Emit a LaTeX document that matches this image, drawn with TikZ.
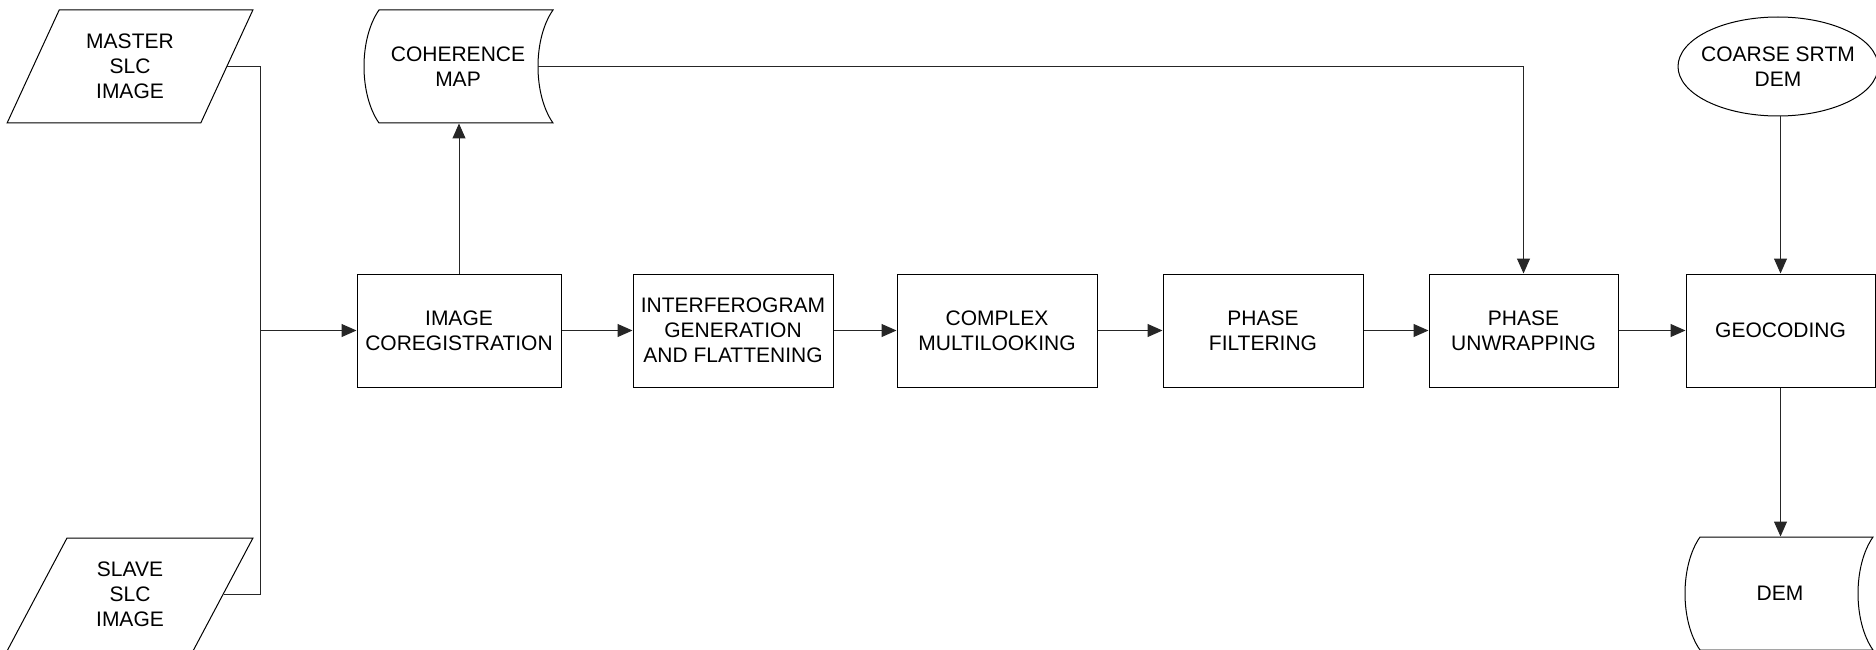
\documentclass[tikz,border=0pt]{standalone}
\usepackage{fontspec}
\setmainfont{Liberation Sans}
\usetikzlibrary{shapes.geometric,arrows.meta,positioning,calc}

% stored data outline round a text node: node, left edge, right edge
\newcommand{\datashape}[3]{%
  \draw ($(#1.center)+(#2,-56.5)$) -- ($(#1.center)+(#3,-56.5)$)
    .. controls ($(#1.center)+(#3-20,-28)$) and ($(#1.center)+(#3-20,28)$) .. ($(#1.center)+(#3,56.5)$)
    -- ($(#1.center)+(#2,56.5)$)
    .. controls ($(#1.center)+(#2-20,28)$) and ($(#1.center)+(#2-20,-28)$) .. cycle;}

\begin{document}
\begin{tikzpicture}[x=1pt, y=-1pt, >={Triangle[length=15pt,width=13pt]}, line width=1pt,
  font=\fontsize{21}{25}\selectfont]
\tikzstyle{process}=[draw=black,fill=white,minimum width=200pt,minimum height=113pt,inner sep=2pt,align=center]
\tikzstyle{io}=[trapezium,trapezium left angle=63.6,trapezium right angle=116.4,trapezium stretches=true,draw=black,fill=white,minimum width=246pt,minimum height=113pt,inner sep=0pt,align=center]
\tikzstyle{datatext}=[minimum height=113pt,inner sep=0pt,align=center]
\tikzstyle{link}=[draw=black!85]
\tikzstyle{flow}=[link,->]

\useasboundingbox (0,0) rectangle (1876,650);

\node[process, minimum width=204pt] (coreg) at (459,330.5) {IMAGE\\COREGISTRATION};
\node[process, right=71pt of coreg] (interf) {INTERFEROGRAM\\GENERATION\\AND FLATTENING};
\node[process, right=63pt of interf] (multilook) {COMPLEX\\MULTILOOKING};
\node[process, right=65pt of multilook] (filter) {PHASE\\FILTERING};
\node[process, minimum width=189pt, right=65pt of filter] (unwrap) {PHASE\\UNWRAPPING};
\node[process, minimum width=189pt, right=67pt of unwrap] (geocode) {GEOCODING};

\node[io] (master) at (130,66.5) {MASTER\\SLC\\IMAGE};
\node[io] (slave) at (130,594.5) {SLAVE\\SLC\\IMAGE};
\node[datatext] (coh) at (458,66.5) {COHERENCE\\MAP};
\node[datatext, minimum height=99pt] (srtm) at (1778,66.5) {COARSE SRTM\\DEM};
\node[datatext] (dem) at (1780,593.5) {DEM};

\datashape{coh}{-79}{95}
\datashape{dem}{-80}{93}
\draw (srtm) ellipse [x radius=100pt, y radius=49.5pt];

% inputs
\coordinate (bus) at ($(coreg.west)+(-96,0)$);
\draw[link] (master.east) -| (bus) |- (slave.east);
\draw[flow] (bus) -- (coreg);

% coherence
\coordinate (cohout) at ($(coh.center)+(80,0)$);
\draw[flow] (coreg.north) -- (coreg.north |- coh.south);
\draw[flow] (cohout) -| (unwrap.north);

% main chain
\foreach \a/\b in {coreg/interf, interf/multilook, multilook/filter, filter/unwrap, unwrap/geocode}
  \draw[flow] (\a) -- (\b);

\draw[flow] (srtm.south -| geocode.north) -- (geocode.north);
\draw[flow] (geocode.south) -- (geocode.south |- dem.north);
\end{tikzpicture}
\end{document}
